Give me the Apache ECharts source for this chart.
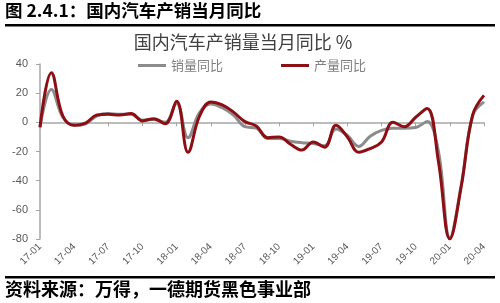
<!DOCTYPE html>
<html><head><meta charset="utf-8">
<script src="https://cdn.jsdelivr.net/npm/echarts@6/dist/echarts.min.js"></script>
<style>html,body{margin:0;padding:0;background:#fff}#c{width:500px;height:303px}</style>
</head><body><div id="c"></div>
<script>
const categories = [
 '17-01','17-02','17-03','17-04','17-05','17-06','17-07','17-08','17-09','17-10','17-11','17-12',
 '18-01','18-02','18-03','18-04','18-05','18-06','18-07','18-08','18-09','18-10','18-11','18-12',
 '19-01','19-02','19-03','19-04','19-05','19-06','19-07','19-08','19-09','19-10','19-11','19-12',
 '20-01','20-02','20-03','20-04'
];
const salesYoY = [
 -3, 22.5, 3.5, -2, -1, 4.5, 6, 5.5, 5.5, 1.5, 2, 0,
 13, -10.5, 6.5, 12.5, 10, 5, -3, -4, -11, -11, -13, -14,
 -14.5, -16, -4.5, -9, -16.5, -9.5, -5.5, -4, -4, -3.5, 0.5, -20,
 -79, -43, 4.5, 14
];
const prodYoY = [
 -3.5, 34, 4.5, -2, -0.5, 5, 5.5, 5, 6, 1, 2.5, -1,
 14.5, -20.5, 4, 14, 12, 7, 0.5, -2.5, -10.5, -10, -15, -19,
 -13.5, -17, -2, -10, -20.5, -18, -13.5, 0, -3, 3.5, 9.5, -27,
 -80, -44, 5, 18.5
];
const seriesNames = ['销量同比', '产量同比'];
const yMin = -80, yMax = 40, yStep = 20;

const CJK = '"Noto Sans CJK SC", sans-serif';
const chart = echarts.init(document.getElementById('c'));
chart.setOption({
  animation: false,
  backgroundColor: '#fff',
  grid: { left: 40, right: 16, top: 64, bottom: 64 },
  legend: {
    left: 133, top: 54,
    itemWidth: 28, itemHeight: 3, itemGap: 58,
    icon: 'rect',
    textStyle: { fontFamily: CJK, fontSize: 13, color: '#7f7f7f' },
    data: seriesNames
  },
  graphic: [
    { type: 'text', left: 5, top: 2, style: { text: '图 2.4.1：国内汽车产销当月同比', font: 'bold 17.5px ' + CJK, fill: '#000' } },
    { type: 'rect', shape: { x: 5, y: 24, width: 490, height: 2.5 }, style: { fill: '#000' } },
    { type: 'text', x: 243, y: 42, style: { text: '国内汽车产销量当月同比 %', font: '18px ' + CJK, fill: '#404040', align: 'center', verticalAlign: 'middle' } },
    { type: 'rect', shape: { x: 5, y: 276, width: 490, height: 2.5 }, style: { fill: '#000' } },
    { type: 'text', left: 5, top: 280, style: { text: '资料来源：万得，一德期货黑色事业部', font: 'bold 18px ' + CJK, fill: '#000' } }
  ],
  xAxis: [
    {
      type: 'category', data: categories, boundaryGap: false, position: 'bottom',
      axisLine: { onZero: true, lineStyle: { color: '#a6a6a6', width: 1.5 } },
      axisTick: { show: true, interval: 2, length: 4, lineStyle: { color: '#a6a6a6' } },
      axisLabel: { show: false }, splitLine: { show: false }
    },
    {
      type: 'category', data: categories, boundaryGap: false, position: 'bottom',
      axisLine: { show: false, onZero: false }, axisTick: { show: false },
      axisLabel: { interval: 2, rotate: 45, fontSize: 10, color: '#595959', margin: 6, fontFamily: 'Liberation Sans, sans-serif' },
      splitLine: { show: false }
    }
  ],
  yAxis: {
    type: 'value', min: yMin, max: yMax, interval: yStep,
    axisLine: { show: true, lineStyle: { color: '#a6a6a6', width: 1.5 } },
    axisTick: { show: true, length: 4, lineStyle: { color: '#a6a6a6' } },
    axisLabel: { fontSize: 11, color: '#595959', margin: 12, fontFamily: 'Liberation Sans, sans-serif' },
    splitLine: { show: false }
  },
  series: [
    { name: seriesNames[0], type: 'line', data: salesYoY, smooth: 0.4, symbol: 'none',
      lineStyle: { color: '#8c8c8c', width: 3 }, itemStyle: { color: '#8c8c8c' }, z: 2 },
    { name: seriesNames[1], type: 'line', data: prodYoY, smooth: 0.4, symbol: 'none',
      lineStyle: { color: '#8b0f14', width: 3 }, itemStyle: { color: '#8b0f14' }, z: 3 }
  ]
});
</script>
</body></html>
